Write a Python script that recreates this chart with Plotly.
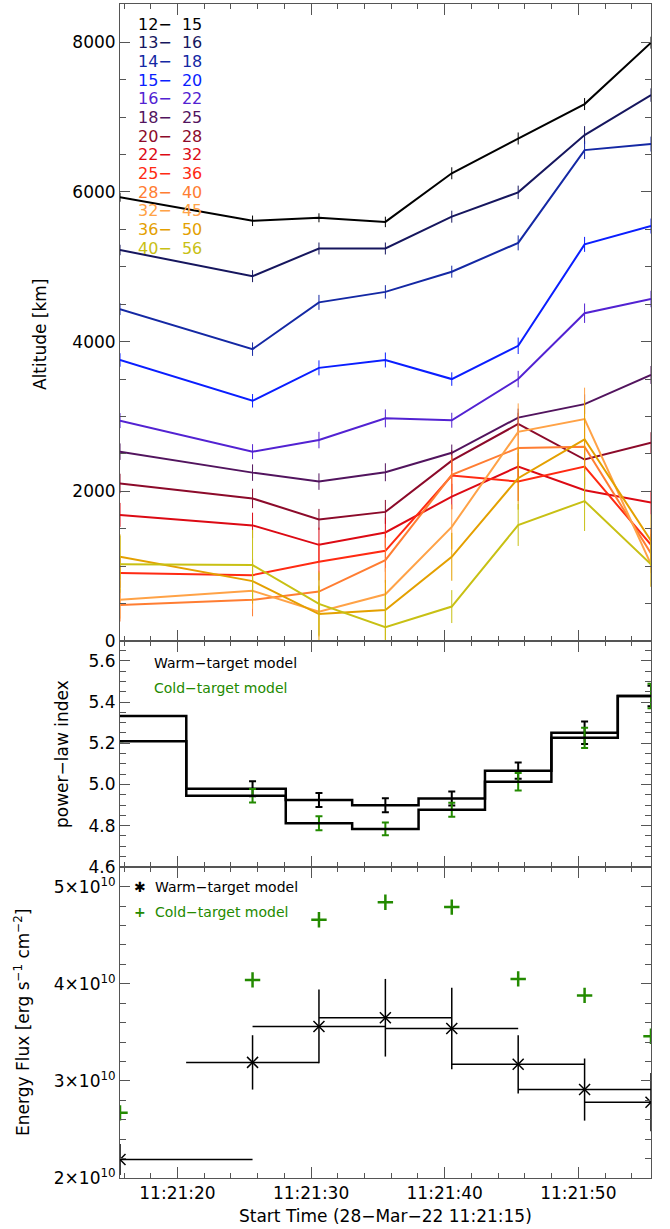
import plotly.graph_objects as go

# ---------------- data ----------------
times = [15.70, 25.62, 30.59, 35.56, 40.53, 45.50, 50.47, 55.44]  # seconds after 11:21:00

band_labels = ["12\u2212\u00a0\u00a015", "13\u2212\u00a0\u00a016", "14\u2212\u00a0\u00a018", "15\u2212\u00a0\u00a020",
               "16\u2212\u00a0\u00a022", "18\u2212\u00a0\u00a025", "20\u2212\u00a0\u00a028", "22\u2212\u00a0\u00a032",
               "25\u2212\u00a0\u00a036", "28\u2212\u00a0\u00a040", "32\u2212\u00a0\u00a045", "36\u2212\u00a0\u00a050",
               "40\u2212\u00a0\u00a056"]
band_colors = ["#000000", "#16165e", "#1428a4", "#0a1eff", "#5222d2", "#52145e", "#8c0a2a",
               "#dc0a14", "#ff2a12", "#ff7d32", "#ffa246", "#e4a000", "#c8c014"]

alt_12_15 = [5930, 5615, 5655, 5600, 6250, 6715, 7175, 7995]
alt_13_16 = [5225, 4875, 5245, 5245, 5670, 5995, 6760, 7295]
alt_14_18 = [4435, 3900, 4525, 4665, 4935, 5320, 6560, 6640]
alt_15_20 = [3755, 3210, 3650, 3755, 3500, 3945, 5300, 5545]
alt_16_22 = [2945, 2530, 2685, 2975, 2950, 3500, 4380, 4570]
alt_18_25 = [2530, 2250, 2130, 2255, 2515, 2985, 3165, 3555]
alt_20_28 = [2105, 1905, 1625, 1725, 2410, 2900, 2425, 2650]
alt_22_32 = [1685, 1545, 1285, 1450, 1930, 2330, 2015, 1850]
alt_25_36 = [910, 880, 1060, 1205, 2210, 2130, 2330, 1285]
alt_28_40 = [480, 550, 660, 1080, 2220, 2580, 2595, 1170]
alt_32_45 = [550, 670, 390, 625, 1525, 2795, 2965, 1025]
alt_36_50 = [1125, 800, 360, 415, 1125, 2175, 2695, 1340]
alt_40_56 = [1025, 1015, 495, 185, 460, 1550, 1870, 1025]

err_12_15 = [60, 70, 60, 70, 80, 80, 80, 80]
err_13_16 = [70, 80, 80, 80, 80, 90, 120, 90]
err_14_18 = [80, 90, 100, 90, 80, 100, 120, 100]
err_15_20 = [90, 90, 100, 100, 90, 110, 100, 100]
err_16_22 = [100, 100, 110, 120, 100, 110, 130, 110]
err_18_25 = [110, 110, 110, 120, 110, 120, 130, 120]
err_20_28 = [130, 130, 140, 160, 140, 150, 160, 140]
err_22_32 = [160, 170, 230, 200, 170, 180, 170, 160]
err_25_36 = [200, 200, 250, 280, 230, 260, 250, 220]
err_28_40 = [220, 220, 280, 300, 260, 300, 320, 260]
err_32_45 = [250, 240, 330, 350, 300, 380, 420, 300]
err_36_50 = [300, 300, 380, 400, 320, 420, 520, 350]
err_40_56 = [380, 470, 420, 420, 220, 280, 400, 300]

altitudes = [alt_12_15, alt_13_16, alt_14_18, alt_15_20, alt_16_22, alt_18_25, alt_20_28,
             alt_22_32, alt_25_36, alt_28_40, alt_32_45, alt_36_50, alt_40_56]
alt_errors = [err_12_15, err_13_16, err_14_18, err_15_20, err_16_22, err_18_25, err_20_28,
              err_22_32, err_25_36, err_28_40, err_32_45, err_36_50, err_40_56]

warm_index = [5.332, 4.979, 4.925, 4.899, 4.932, 5.067, 5.251, 5.429]
warm_index_err = [0.0, 0.036, 0.034, 0.034, 0.034, 0.039, 0.055, 0.050]
cold_index = [5.210, 4.945, 4.812, 4.784, 4.877, 5.013, 5.226, 5.429]
cold_index_err = [0.0, 0.033, 0.034, 0.031, 0.034, 0.042, 0.049, 0.059]

warm_flux = [2.19e10, 3.19e10, 3.56e10, 3.65e10, 3.54e10, 3.17e10, 2.91e10, 2.78e10]
warm_flux_err = [0.16e10, 0.28e10, 0.38e10, 0.40e10, 0.42e10, 0.30e10, 0.32e10, 0.30e10]
cold_flux = [2.67e10, 4.04e10, 4.66e10, 4.84e10, 4.79e10, 4.05e10, 3.88e10, 3.46e10]
time_half_width = [9.92, 4.97, 4.97, 4.97, 4.97, 4.97, 4.97, 4.97]

x_tick_vals = [20, 30, 40, 50]
x_tick_text = ["11:21:20", "11:21:30", "11:21:40", "11:21:50"]
flux_tick_vals = [2e10, 3e10, 4e10, 5e10]
flux_tick_text = ["2\u00d710<sup>10</sup>", "3\u00d710<sup>10</sup>", "4\u00d710<sup>10</sup>", "5\u00d710<sup>10</sup>"]

# ---------------- figure ----------------
FONT = "DejaVu Sans"
GREEN = "#238a00"
AX = "#555555"
W, H = 670, 1229
L, R, T, B = 120, 19, 4, 51
PW, PH = W - L - R, H - T - B


def px(xp, yp):
    return (xp - L) / PW, (H - B - yp) / PH


fig = go.Figure()

for vals, errs, col in zip(altitudes, alt_errors, band_colors):
    fig.add_trace(go.Scatter(
        x=times, y=vals, mode="lines", line=dict(color=col, width=2),
        error_y=dict(type="data", array=errs, color=col, thickness=1, width=0),
        xaxis="x", yaxis="y", showlegend=False, hoverinfo="skip"))

fig.add_trace(go.Scatter(
    x=times, y=warm_index, mode="lines", line=dict(color="black", width=2.5, shape="hvh"),
    error_y=dict(type="data", array=warm_index_err, color="black", thickness=2, width=3.5),
    xaxis="x2", yaxis="y2", showlegend=False))
fig.add_trace(go.Scatter(
    x=times, y=cold_index, mode="lines", line=dict(color="black", width=2.5, shape="hvh"),
    error_y=dict(type="data", array=cold_index_err, color=GREEN, thickness=2, width=3.5),
    xaxis="x2", yaxis="y2", showlegend=False))

fig.add_trace(go.Scatter(
    x=times, y=warm_flux, mode="markers",
    marker=dict(symbol="x-thin", size=11, color="black", line=dict(width=1.5, color="black")),
    error_x=dict(type="data", array=time_half_width, color="black", thickness=1.5, width=0),
    error_y=dict(type="data", array=warm_flux_err, color="black", thickness=1.5, width=0),
    xaxis="x3", yaxis="y3", showlegend=False))
fig.add_trace(go.Scatter(
    x=times, y=cold_flux, mode="markers",
    marker=dict(symbol="cross-thin", size=11, color=GREEN, line=dict(width=2.5, color=GREEN)),
    xaxis="x3", yaxis="y3", showlegend=False))

d_top = [(H - B - 641) / PH, 1.0]
d_mid = [(H - B - 867) / PH, (H - B - 641) / PH]
d_bot = [0.0, (H - B - 867) / PH]

tickfont = dict(family=FONT, size=17, color="black")


def xax(anchor, labels):
    return dict(range=[times[0], times[-1]], anchor=anchor, showline=True, linecolor=AX, linewidth=1,
                mirror="allticks", ticks="inside", ticklen=11, tickcolor=AX, tickwidth=1,
                tickmode="array", tickvals=x_tick_vals, ticktext=x_tick_text,
                showticklabels=labels, tickfont=tickfont, showgrid=False, zeroline=False,
                minor=dict(tickmode="linear", tick0=0, dtick=2, ticks="inside", ticklen=5,
                           tickcolor=AX, tickwidth=1, showgrid=False))


def yax(domain, anchor, **kw):
    d = dict(domain=domain, anchor=anchor, showline=True, linecolor=AX, linewidth=1,
             mirror="allticks", ticks="inside", ticklen=10, tickcolor=AX, tickwidth=1,
             tickfont=tickfont, showgrid=False, zeroline=False)
    d.update(kw)
    return d


fig.update_layout(
    width=W, height=H, margin=dict(l=L, r=R, t=T, b=B),
    paper_bgcolor="white", plot_bgcolor="white",
    font=dict(family=FONT, size=17, color="black"),
    xaxis=xax("y", False),
    xaxis2=xax("y2", False),
    xaxis3=xax("y3", True),
    yaxis=yax(d_top, "x", range=[0, 8512], tickmode="array", tickvals=[0, 2000, 4000, 6000, 8000],
              minor=dict(tickmode="linear", tick0=0, dtick=500, ticks="inside", ticklen=6,
                         tickcolor=AX, showgrid=False)),
    yaxis2=yax(d_mid, "x2", range=[4.5995, 5.696], tickmode="linear", tick0=4.6, dtick=0.2,
               tickformat=".1f",
               minor=dict(tickmode="linear", tick0=4.6, dtick=0.05, ticks="inside", ticklen=6,
                          tickcolor=AX, showgrid=False)),
    yaxis3=yax(d_bot, "x3", range=[1.999e10, 5.203e10], tickmode="array", tickvals=flux_tick_vals,
               ticktext=flux_tick_text,
               minor=dict(tickmode="linear", tick0=0, dtick=0.2e10, ticks="inside", ticklen=6,
                          tickcolor=AX, showgrid=False)),
)

ann = []
# top-panel energy band labels
for i, (lab, col) in enumerate(zip(band_labels, band_colors)):
    x, y = px(136, 24 + i * 18.67)
    ann.append(dict(xref="paper", yref="paper", x=x, y=y, xanchor="left", yanchor="middle",
                    text=lab, showarrow=False, font=dict(family=FONT, size=16, color=col)))

# middle-panel legend
for txt, col, ypx in [("Warm\u2212target model", "black", 663), ("Cold\u2212target model", GREEN, 688)]:
    x, y = px(152, ypx)
    ann.append(dict(xref="paper", yref="paper", x=x, y=y, xanchor="left", yanchor="middle",
                    text=txt, showarrow=False, font=dict(family=FONT, size=14, color=col)))

# bottom-panel legend
for sym, txt, col, ypx in [("\u2731", "Warm\u2212target model", "black", 887),
                           ("<b>+</b>", "Cold\u2212target model", GREEN, 912)]:
    x, y = px(140, ypx)
    ann.append(dict(xref="paper", yref="paper", x=x, y=y, xanchor="center", yanchor="middle",
                    text=sym, showarrow=False, font=dict(family=FONT, size=14, color=col)))
    x, y = px(153, ypx)
    ann.append(dict(xref="paper", yref="paper", x=x, y=y, xanchor="left", yanchor="middle",
                    text=txt, showarrow=False, font=dict(family=FONT, size=14, color=col)))

# axis titles
for txt, xp, yp in [("Altitude [km]", 40, 334), ("power\u2212law index", 62, 754),
                    ("Energy Flux [erg s<sup>\u22121</sup> cm<sup>\u22122</sup>]", 22, 1022)]:
    x, y = px(xp, yp)
    ann.append(dict(xref="paper", yref="paper", x=x, y=y, xanchor="center", yanchor="middle",
                    textangle=-90, text=txt, showarrow=False,
                    font=dict(family=FONT, size=17, color="black")))
x, y = px(385, 1216)
ann.append(dict(xref="paper", yref="paper", x=x, y=y, xanchor="center", yanchor="middle",
                text="Start Time (28\u2212Mar\u221222 11:21:15)", showarrow=False,
                font=dict(family=FONT, size=17, color="black")))

fig.update_layout(annotations=ann)
fig.write_html("out.html")
